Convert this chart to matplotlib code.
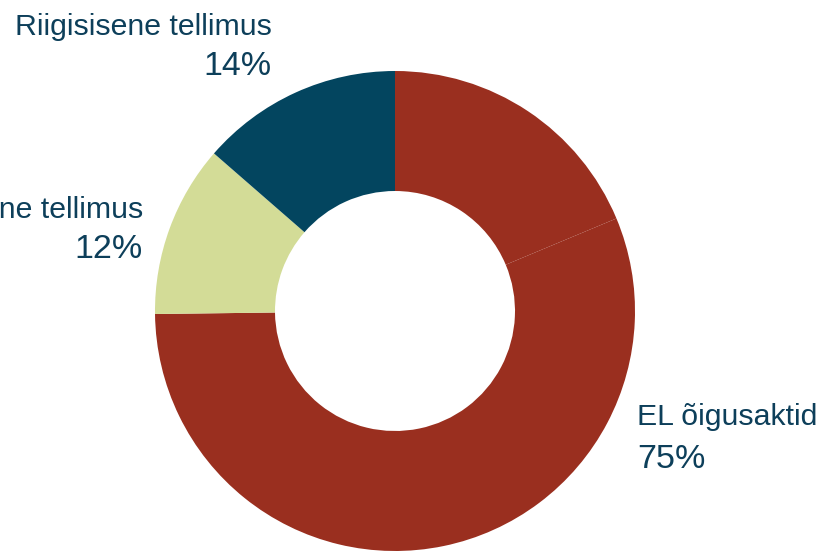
import matplotlib.pyplot as plt

# Slices clockwise from 12 o'clock (the red one is drawn in two parts)
slice_values = [18.7, 56.1, 11.6, 13.6]
slice_colors = ['#9A2F1F', '#9A2F1F', '#D3DC97', '#03455F']

labels = ['EL õigusaktid', 'Rahvusvaheline tellimus', 'Riigisisene tellimus']
pct_labels = ['75%', '12%', '14%']

plt.rcParams['font.family'] = ['Liberation Sans', 'DejaVu Sans']
txt_color = '#0D3F5A'

fig = plt.figure(figsize=(8.23, 5.51), dpi=100)
ax = fig.add_axes([0, 0, 1, 1])

# y axis is inverted below, so start at -90 and go counterclockwise in data
# coordinates to get a clockwise pie starting at 12 o'clock on screen
wedges, _ = ax.pie(slice_values, colors=slice_colors, startangle=-90,
                   counterclock=True, radius=240, center=(395, 311),
                   wedgeprops=dict(width=120, linewidth=0))
ax.set_xlim(0, 823)
ax.set_ylim(551, 0)
ax.set_aspect('equal')
ax.axis('off')

fs = 21.8
fs_pct = 24.5
# EL õigusaktid
ax.text(637, 425, labels[0], fontsize=fs, color=txt_color, ha='left', va='baseline')
ax.text(637, 468, pct_labels[0], fontsize=fs_pct, color=txt_color, ha='left', va='baseline')
# Rahvusvaheline tellimus (runs off the left edge, as in the original)
ax.text(143, 218, labels[1], fontsize=fs, color=txt_color, ha='right', va='baseline')
ax.text(143, 258, pct_labels[1], fontsize=fs_pct, color=txt_color, ha='right', va='baseline')
# Riigisisene tellimus
ax.text(272, 35, labels[2], fontsize=fs, color=txt_color, ha='right', va='baseline')
ax.text(272, 75, pct_labels[2], fontsize=fs_pct, color=txt_color, ha='right', va='baseline')

fig.savefig('out.png', dpi=100)
